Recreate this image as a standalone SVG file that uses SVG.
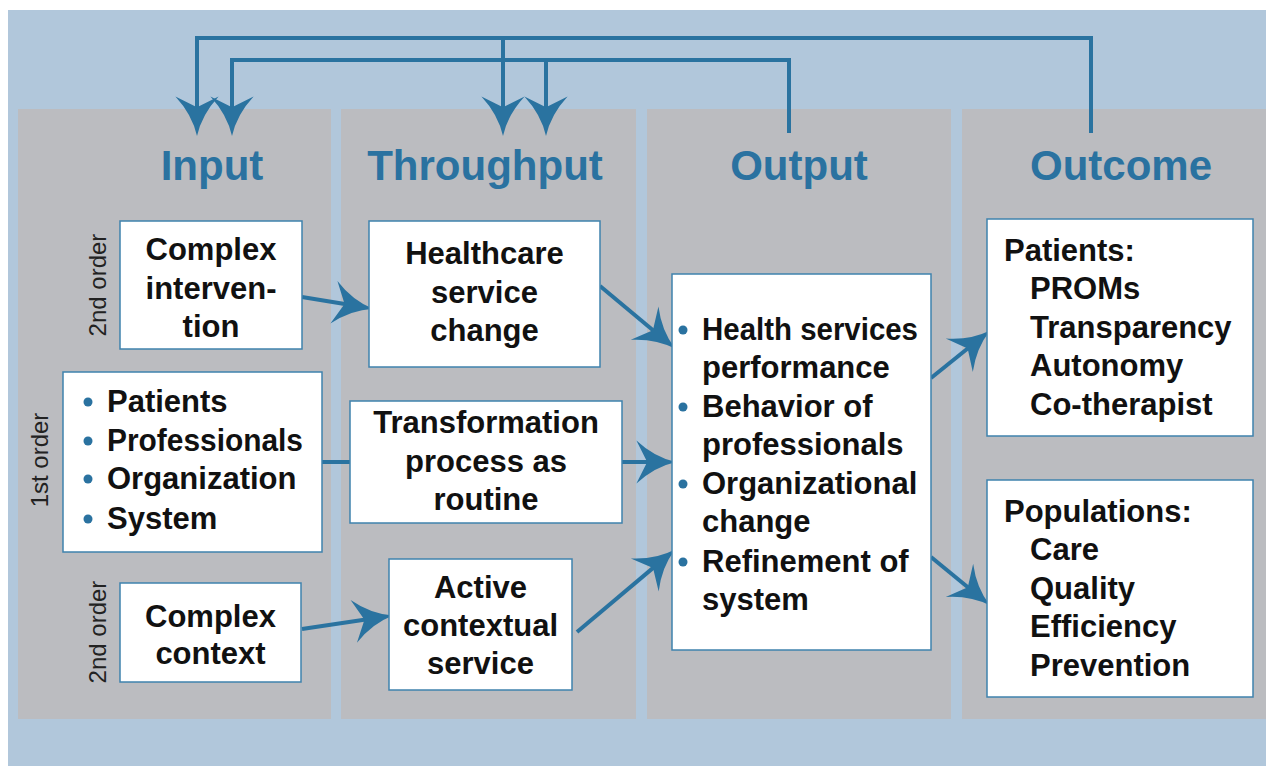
<svg xmlns="http://www.w3.org/2000/svg" width="1266" height="766" viewBox="0 0 1266 766">
<style>
.col{fill:#BBBCC0}
.box{fill:#FFFFFF;stroke:#3F82AD;stroke-width:1.5}
.title{font-family:"Liberation Sans",Arial,sans-serif;font-weight:bold;font-size:42px;fill:#2A72A0;text-anchor:middle}
.t{font-family:"Liberation Sans",Arial,sans-serif;font-weight:bold;font-size:31px;fill:#111111}
.c{text-anchor:middle}
.ord{font-family:"Liberation Sans",Arial,sans-serif;font-size:24px;fill:#222222;text-anchor:middle}
.bul{fill:#2A72A0}
.con{fill:none;stroke:#2A73A0;stroke-width:4}
</style>
<defs>
<marker id="ah" markerUnits="userSpaceOnUse" orient="auto" refX="0" refY="0" markerWidth="60" markerHeight="60" viewBox="-20 -25 50 50" overflow="visible">
<path d="M20,0 Q2,-4 -13,-18 L-4,0 L-13,18 Q2,4 20,0 Z" fill="#2A73A0"/>
</marker>
</defs>
<rect x="0" y="0" width="1266" height="766" fill="#FFFFFF"/>
<rect x="8" y="10" width="1258" height="756" fill="#B1C7DB"/>
<g id="columns">
<rect class="col" x="18" y="109" width="313" height="610"/>
<rect class="col" x="341" y="109" width="295" height="610"/>
<rect class="col" x="647" y="109" width="304" height="610"/>
<rect class="col" x="962" y="109" width="304" height="610"/>
<text class="title" x="212" y="180">Input</text>
<text class="title" x="485" y="180">Throughput</text>
<text class="title" x="799" y="180">Output</text>
<text class="title" x="1121" y="180">Outcome</text>
<text class="ord" transform="translate(106,285) rotate(-90)">2nd order</text>
<text class="ord" transform="translate(48,460) rotate(-90)">1st order</text>
<text class="ord" transform="translate(106,632) rotate(-90)">2nd order</text>
</g>
<g id="connectors">
<path class="con" d="M1091,133 V38 H197 V112" marker-end="url(#ah)"/>
<path class="con" d="M503,38 V112" marker-end="url(#ah)"/>
<path class="con" d="M789,133 V60 H232 V112" marker-end="url(#ah)"/>
<path class="con" d="M546,60 V112" marker-end="url(#ah)"/>
<line class="con" x1="302" y1="297" x2="349.3" y2="304.8" marker-end="url(#ah)"/>
<line class="con" x1="302" y1="629" x2="369.2" y2="619" marker-end="url(#ah)"/>
<line class="con" x1="322" y1="462" x2="350" y2="462"/>
<line class="con" x1="600" y1="286" x2="656.6" y2="333.2" marker-end="url(#ah)"/>
<line class="con" x1="622" y1="462" x2="652" y2="462" marker-end="url(#ah)"/>
<line class="con" x1="577" y1="632" x2="656.7" y2="564.9" marker-end="url(#ah)"/>
<line class="con" x1="931" y1="378" x2="971.4" y2="345.5" marker-end="url(#ah)"/>
<line class="con" x1="931" y1="557" x2="971.5" y2="590.3" marker-end="url(#ah)"/>
</g>
<g id="complex-intervention">
<rect class="box" x="120" y="221" width="182" height="128"/>
<text class="t c" x="211" y="260">Complex</text>
<text class="t c" x="211" y="299">interven-</text>
<text class="t c" x="211" y="337">tion</text>
</g>
<g id="first-order">
<rect class="box" x="63" y="372" width="259" height="180"/>
<circle class="bul" cx="88" cy="402" r="4.5"/>
<circle class="bul" cx="88" cy="441" r="4.5"/>
<circle class="bul" cx="88" cy="479" r="4.5"/>
<circle class="bul" cx="88" cy="519" r="4.5"/>
<text class="t" x="107" y="412">Patients</text>
<text class="t" x="107" y="451" textLength="196" lengthAdjust="spacingAndGlyphs">Professionals</text>
<text class="t" x="107" y="489">Organization</text>
<text class="t" x="107" y="529">System</text>
</g>
<g id="complex-context">
<rect class="box" x="120" y="583" width="181" height="99"/>
<text class="t c" x="210.5" y="627">Complex</text>
<text class="t c" x="210.5" y="664">context</text>
</g>
<g id="healthcare-service-change">
<rect class="box" x="369" y="221" width="231" height="146"/>
<text class="t c" x="484.5" y="264">Healthcare</text>
<text class="t c" x="484.5" y="302.5">service</text>
<text class="t c" x="484.5" y="341">change</text>
</g>
<g id="transformation">
<rect class="box" x="350" y="401" width="272" height="122"/>
<text class="t c" x="486" y="433">Transformation</text>
<text class="t c" x="486" y="472">process as</text>
<text class="t c" x="486" y="510">routine</text>
</g>
<g id="active-contextual-service">
<rect class="box" x="389" y="559" width="183" height="131"/>
<text class="t c" x="480.5" y="598">Active</text>
<text class="t c" x="480.5" y="636">contextual</text>
<text class="t c" x="480.5" y="674">service</text>
</g>
<g id="output-box">
<rect class="box" x="672" y="274" width="259" height="376"/>
<circle class="bul" cx="683" cy="330" r="4.5"/>
<circle class="bul" cx="683" cy="407" r="4.5"/>
<circle class="bul" cx="683" cy="484" r="4.5"/>
<circle class="bul" cx="683" cy="562" r="4.5"/>
<text class="t" x="702" y="340" textLength="216" lengthAdjust="spacingAndGlyphs">Health services</text>
<text class="t" x="702" y="378">performance</text>
<text class="t" x="702" y="417">Behavior of</text>
<text class="t" x="702" y="455">professionals</text>
<text class="t" x="702" y="494">Organizational</text>
<text class="t" x="702" y="532">change</text>
<text class="t" x="702" y="572">Refinement of</text>
<text class="t" x="702" y="610">system</text>
</g>
<g id="patients-outcome">
<rect class="box" x="987" y="219" width="266" height="217"/>
<text class="t" x="1004" y="261">Patients:</text>
<text class="t" x="1030" y="299">PROMs</text>
<text class="t" x="1030" y="338">Transparency</text>
<text class="t" x="1030" y="376">Autonomy</text>
<text class="t" x="1030" y="415">Co-therapist</text>
</g>
<g id="populations-outcome">
<rect class="box" x="987" y="480" width="266" height="217"/>
<text class="t" x="1004" y="522">Populations:</text>
<text class="t" x="1030" y="560">Care</text>
<text class="t" x="1030" y="599">Quality</text>
<text class="t" x="1030" y="637">Efficiency</text>
<text class="t" x="1030" y="676">Prevention</text>
</g>
</svg>
